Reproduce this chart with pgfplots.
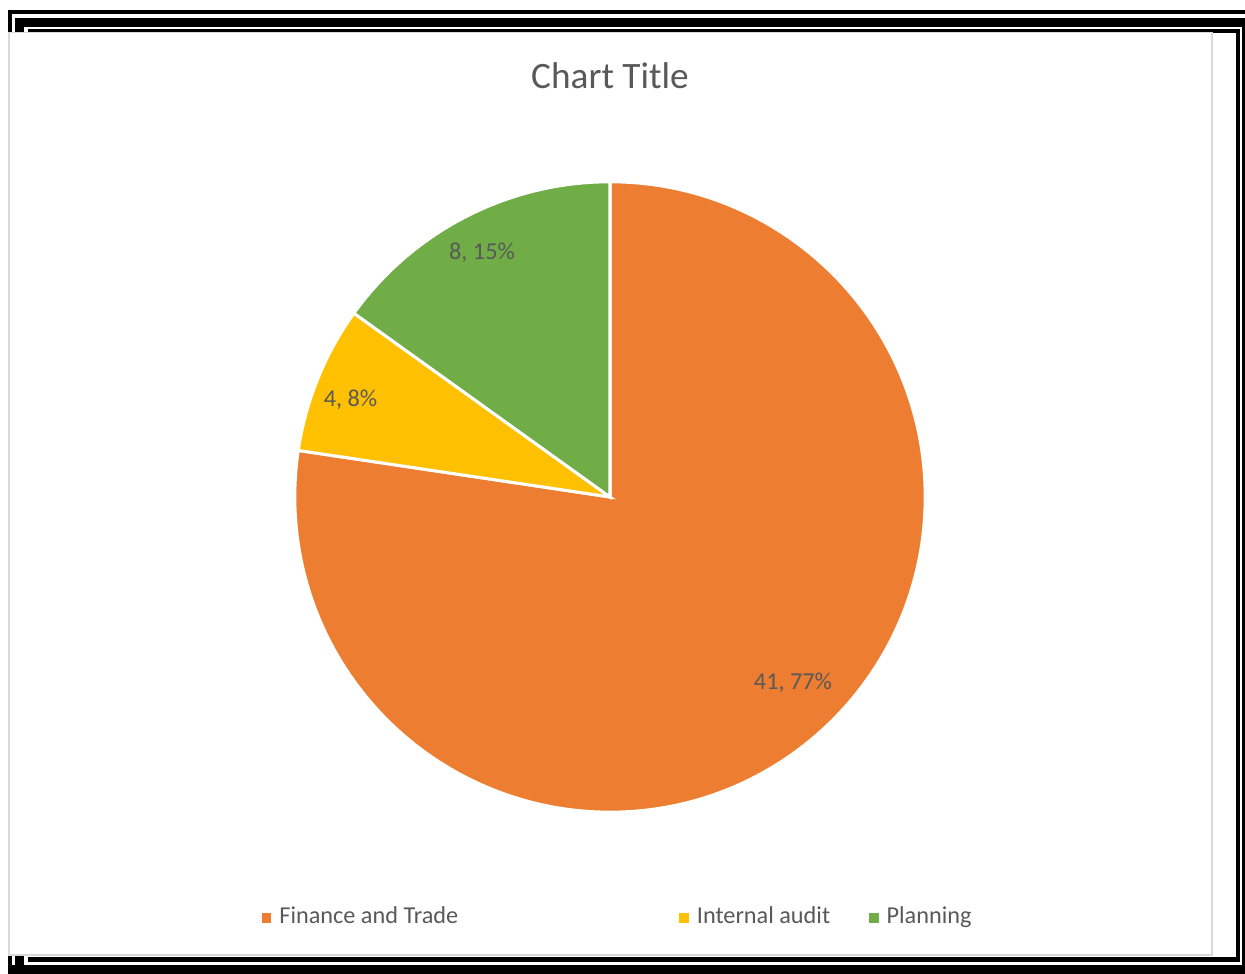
\documentclass[border=0pt]{standalone}
\usepackage{pgfplots}
\pgfplotsset{compat=1.18}
\usepackage{pgfplotstable}
\usepackage{fontspec}
\setmainfont{Carlito}
\definecolor{cOrange}{HTML}{ED7D31}
\definecolor{cYellow}{HTML}{FFC000}
\definecolor{cGreen}{HTML}{70AD47}
\definecolor{txt}{HTML}{595959}
\definecolor{frameGray}{HTML}{D9D9D9}

\pgfplotstableread{
value
41
4
8
}\piedata

\begin{document}
\begin{tikzpicture}
\pgfplotstablegetelem{0}{value}\of\piedata \edef\va{\pgfplotsretval}
\pgfplotstablegetelem{1}{value}\of\piedata \edef\vb{\pgfplotsretval}
\pgfplotstablegetelem{2}{value}\of\piedata \edef\vc{\pgfplotsretval}
\pgfmathsetmacro{\tot}{\va+\vb+\vc}
\pgfmathsetmacro{\aA}{90}
\pgfmathsetmacro{\aB}{90-360*\va/\tot}
\pgfmathsetmacro{\aC}{\aB-360*\vb/\tot}
\pgfmathsetmacro{\aD}{\aC-360*\vc/\tot}
\pgfmathtruncatemacro{\pA}{round(100*\va/\tot)}
\pgfmathtruncatemacro{\pB}{round(100*\vb/\tot)}
\pgfmathtruncatemacro{\pC}{round(100*\vc/\tot)}
\begin{axis}[
  x=0.01cm, y=0.01cm,
  xmin=0, xmax=1245, ymin=0, ymax=974,
  hide axis, clip=false,
  legend columns=3,
  legend style={
    at={(axis description cs:0.2104,0.0575)}, anchor=west,
    draw=none, fill=none, inner sep=0pt, outer sep=0pt,
    font=\fontsize{6.9}{8.2}\selectfont, text=txt,
    nodes={inner sep=0pt},
    column sep=0pt,
    /tikz/column 1/.style={column sep=0.08cm},
    /tikz/column 2/.style={column sep=2.21cm},
    /tikz/column 3/.style={column sep=0.08cm},
    /tikz/column 4/.style={column sep=0.39cm},
    /tikz/column 5/.style={column sep=0.08cm},
  },
  legend cell align=left,
]
% invisible extent
\path (axis cs:0,0) rectangle (axis cs:1245,974);
% outer decorative frame
\fill[black] (axis cs:8,960) rectangle (axis cs:1245,964);
\fill[black] (axis cs:15,947) rectangle (axis cs:1245,956);
\fill[black] (axis cs:28,941) rectangle (axis cs:1240,945);
\fill[black] (axis cs:1236,12) rectangle (axis cs:1240,945);
\fill[black] (axis cs:1242,0) rectangle (axis cs:1245,947);
\fill[black] (axis cs:28,12) rectangle (axis cs:1240,17);
\fill[black] (axis cs:8,0) rectangle (axis cs:1245,9);
\fill[black] (axis cs:8,0) rectangle (axis cs:12,964);
\fill[black] (axis cs:15,0) rectangle (axis cs:24,956);
% chart area
\filldraw[fill=white, draw=frameGray, line width=0.015cm] (axis cs:8.75,941.5) rectangle (axis cs:1212,19);
% title
\node[anchor=base, text=txt, font=\fontsize{10.6}{12.5}\selectfont] at (axis cs:610,885) {Chart Title};
% pie slices
\filldraw[fill=cOrange, draw=white, line width=0.03cm] (axis cs:610,477) -- ++(\aA:3.15cm) arc[start angle=\aA, end angle=\aB, radius=3.15cm] -- cycle;
\filldraw[fill=cYellow, draw=white, line width=0.03cm] (axis cs:610,477) -- ++(\aB:3.15cm) arc[start angle=\aB, end angle=\aC, radius=3.15cm] -- cycle;
\filldraw[fill=cGreen, draw=white, line width=0.03cm] (axis cs:610,477) -- ++(\aC:3.15cm) arc[start angle=\aC, end angle=\aD, radius=3.15cm] -- cycle;
% data labels
\node[anchor=base, text=txt, font=\fontsize{6.9}{8.2}\selectfont] at (axis cs:793,284) {\va, \pA\%};
\node[anchor=base, text=txt, font=\fontsize{6.9}{8.2}\selectfont] at (axis cs:350.5,567) {\vb, \pB\%};
\node[anchor=base, text=txt, font=\fontsize{6.9}{8.2}\selectfont] at (axis cs:482,714) {\vc, \pC\%};
% legend
\addlegendimage{legend image code/.code={\fill[cOrange] (0cm,-0.04cm) rectangle (0.08cm,0.04cm);}}
\addlegendentry{Finance and Trade}
\addlegendimage{legend image code/.code={\fill[cYellow] (0cm,-0.04cm) rectangle (0.08cm,0.04cm);}}
\addlegendentry{Internal audit}
\addlegendimage{legend image code/.code={\fill[cGreen] (0cm,-0.04cm) rectangle (0.08cm,0.04cm);}}
\addlegendentry{Planning}
\end{axis}
\end{tikzpicture}
\end{document}
